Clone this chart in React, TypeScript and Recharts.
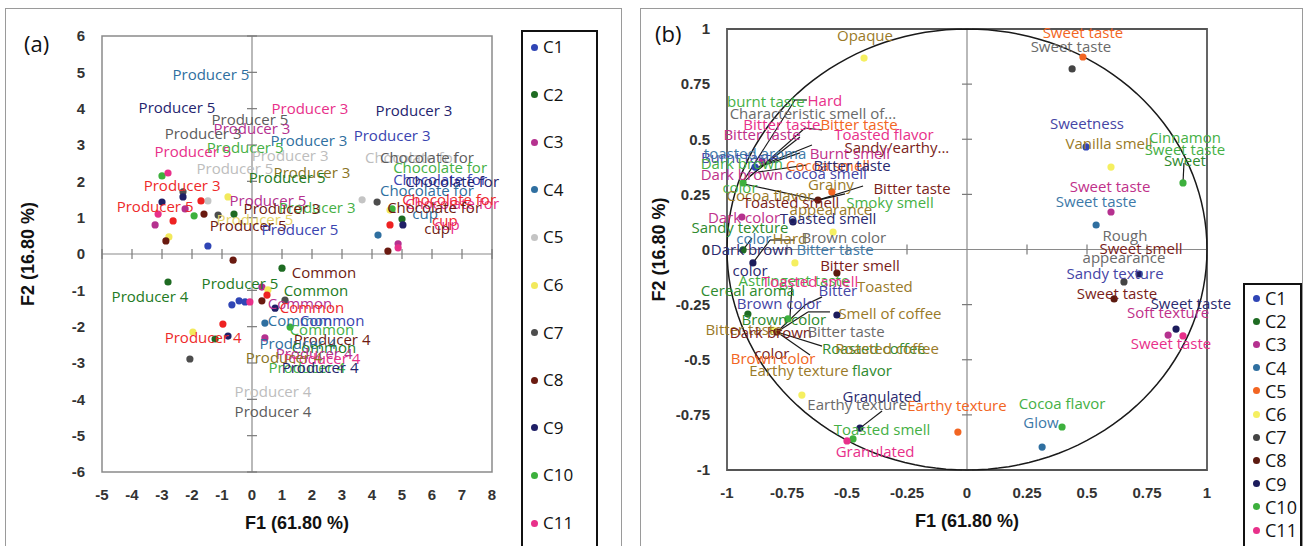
import React from 'react';
import { ScatterChart, Scatter, XAxis, YAxis, ReferenceLine, ReferenceArea } from 'recharts';

// ---------- shared ----------
const classes = ['C1', 'C2', 'C3', 'C4', 'C5', 'C6', 'C7', 'C8', 'C9', 'C10', 'C11'];
const xTitle = 'F1 (61.80 %)';
const yTitle = 'F2 (16.80 %)';

// ---------- panel (a) ----------
const xTicksA = [-5, -4, -3, -2, -1, 0, 1, 2, 3, 4, 5, 6, 7, 8];
const yTicksA = [-6, -5, -4, -3, -2, -1, 0, 1, 2, 3, 4, 5, 6];

const ptsA_C1 = [[-1.47, 0.22], [-0.67, -1.4], [-0.43, -1.29], [-0.23, -1.32]];
const ptsA_C2 = [[-0.6, 1.1], [1.0, -0.39], [-2.8, -0.77], [-1.23, -2.34], [5.0, 0.96]];
const ptsA_C3 = [[-2.23, 1.24], [-3.23, 0.8], [0.33, -0.91], [0.43, -2.31], [4.87, 0.28]];
const ptsA_C4 = [[0.43, -1.9], [4.2, 0.52]];
const ptsA_C5 = [[-1.47, 1.46], [3.67, 1.49]];
const ptsA_C6 = [[-0.8, 1.57], [-2.77, 0.47], [0.53, -0.99], [-1.97, -2.15], [4.6, 1.21]];
const ptsA_C7 = [[-2.3, 1.71], [-1.13, 1.07], [1.1, -1.27], [-2.07, -2.89], [4.17, 1.43]];
const ptsA_C8 = [[-1.6, 1.1], [-2.87, 0.36], [-0.63, -0.17], [0.33, -1.29], [4.53, 0.08]];
const ptsA_C9 = [[-3.0, 1.43], [-2.3, 1.57], [0.77, -1.49], [-0.8, -2.26], [5.03, 0.8]];
const ptsA_C10 = [[-3.0, 2.15], [-1.93, 1.05], [1.27, -2.01], [4.67, 1.24]];
const ptsA_C11 = [[-2.8, 2.23], [-3.13, 1.1], [-0.07, -1.32], [4.87, 0.17]];
const ptsA_R = [[-1.7, 1.46], [-2.63, 0.91], [0.5, -1.13], [-0.97, -1.93], [4.6, 0.8]];

// [text, colour key, x, y]
const labelsA: [string, string, number, number][] = [
  ['Producer 5', 'C4', -1.37, 4.96],
  ['Producer 5', 'C9', -2.5, 4.05],
  ['Producer 3', 'C11', 1.93, 4.02],
  ['Producer 5', 'C7', -0.07, 3.72],
  ['Producer 3', 'C3', 0.0, 3.47],
  ['Producer 3', 'C7', -1.63, 3.33],
  ['Producer 3', 'C4', 1.9, 3.14],
  ['Producer 3', 'C9', 5.4, 3.97],
  ['Producer 3', 'C1', 4.67, 3.28],
  ['Producer 5', 'C11', -1.97, 2.84],
  ['Producer 5', 'C10', -0.23, 2.95],
  ['Producer 3', 'C5', 1.27, 2.73],
  ['Producer 5', 'C5', -0.57, 2.37],
  ['Producer 3', 'O', 2.0, 2.26],
  ['Producer 5', 'C2', 1.17, 2.12],
  ['Producer 3', 'R', -2.33, 1.9],
  ['Producer 5', 'R', -3.23, 1.32],
  ['Producer 5', 'C3', 0.53, 1.49],
  ['Producer 3', 'C10', 2.17, 1.29],
  ['Producer 3', 'C8', 1.0, 1.27],
  ['Producer 5', 'C6', 0.1, 0.96],
  ['Producer 5', 'C8', -0.13, 0.8],
  ['Producer 5', 'C1', 1.6, 0.69],
  ['Chocolate for', 'C5', 5.33, 2.67],
  ['Chocolate for', 'C7', 5.83, 2.67],
  ['Chocolate for', 'C10', 6.27, 2.4],
  ['Chocolate for', 'C1', 6.27, 2.07],
  ['Chocolate for', 'C9', 6.67, 2.01],
  ['Chocolate for', 'C4', 5.83, 1.76],
  ['cup', 'C4', 5.77, 1.13],
  ['Chocolate for', 'C11', 6.67, 1.4],
  ['Chocolate for', 'R', 6.57, 1.52],
  ['cup', 'R', 6.43, 0.94],
  ['Chocolate for', 'C8', 6.07, 1.29],
  ['cup', 'C11', 6.5, 0.83],
  ['cup', 'C8', 6.17, 0.72],
  ['Common', 'C8', 2.4, -0.5],
  ['Common', 'C2', 2.13, -0.99],
  ['Producer 5', 'C2', -0.4, -0.8],
  ['Producer 4', 'C2', -3.4, -1.16],
  ['Common', 'C3', 1.6, -1.35],
  ['Common', 'R', 2.0, -1.46],
  ['Common', 'C4', 1.6, -1.82],
  ['Common', 'C1', 2.67, -1.82],
  ['Common', 'C10', 2.33, -2.07],
  ['Producer 4', 'C8', 2.67, -2.34],
  ['Producer 4', 'C4', 1.53, -2.45],
  ['Common', 'C2', 2.4, -2.56],
  ['Producer 4', 'C3', 2.07, -2.73],
  ['Producer 4', 'C11', 2.33, -2.87],
  ['Producer 4', 'O', 1.07, -2.84],
  ['Producer 4', 'C10', 1.83, -3.11],
  ['Producer 4', 'C9', 2.27, -3.11],
  ['Producer 4', 'C5', 0.7, -3.77],
  ['Producer 4', 'C7', 0.7, -4.33],
  ['Producer 4', 'R', -1.63, -2.29],
];

// ---------- panel (b) ----------
const xTicksB = [-1, -0.75, -0.5, -0.25, 0, 0.25, 0.5, 0.75, 1];
const yTicksB = [-1, -0.75, -0.5, -0.25, 0, 0.25, 0.5, 0.75, 1];

const ptsB_C1 = [[0.496, 0.465], [-0.883, 0.374]];
const ptsB_C2 = [[-0.933, -0.002], [-0.913, -0.293]];
const ptsB_C3 = [[0.6, 0.17], [0.838, -0.388], [-0.854, 0.401], [-0.938, 0.147]];
const ptsB_C4 = [[0.538, 0.111], [0.313, -0.896]];
const ptsB_C5 = [[0.483, 0.873], [-0.038, -0.828], [-0.563, 0.261]];
const ptsB_C6 = [[-0.429, 0.868], [0.6, 0.374], [-0.558, 0.079], [-0.717, -0.061], [-0.808, -0.365], [-0.688, -0.66]];
const ptsB_C7 = [[0.438, 0.819], [0.654, -0.147]];
const ptsB_C8 = [[0.613, -0.224], [-0.621, 0.224], [-0.542, -0.107], [-0.792, -0.374]];
const ptsB_C9 = [[0.717, -0.111], [0.871, -0.361], [-0.725, 0.125], [-0.892, -0.061], [-0.542, -0.297], [-0.446, -0.81]];
const ptsB_C10 = [[0.9, 0.302], [0.396, -0.805], [-0.933, 0.302], [-0.746, -0.315], [-0.475, -0.859]];
const ptsB_C11 = [[0.9, -0.392], [-0.5, -0.868]];

const labelsB: [string, string, number, number][] = [
  ['Opaque', 'C6', -0.425, 0.973],
  ['burnt taste', 'C10', -0.838, 0.673],
  ['Hard', 'C11', -0.592, 0.678],
  ['Characteristic smell of...', 'C7', -0.642, 0.619],
  ['Bitter taste', 'C11', -0.771, 0.569],
  ['Bitter taste', 'C5', -0.45, 0.569],
  ['Bitter taste', 'C3', -0.854, 0.524],
  ['Toasted flavor', 'C11', -0.346, 0.524],
  ['Sandy/earthy...', 'C8', -0.292, 0.465],
  ['Burnt taste', 'C1', -0.946, 0.42],
  ['toasted aroma', 'C4', -0.883, 0.438],
  ['Burnt smell', 'C3', -0.488, 0.438],
  ['Dark brown', 'C10', -0.938, 0.392],
  ['Cocoa smell', 'C5', -0.579, 0.383],
  ['Bitter taste', 'C9', -0.479, 0.383],
  ['Dark brown', 'C3', -0.938, 0.342],
  ['cocoa smell', 'C1', -0.588, 0.347],
  ['color', 'C10', -0.946, 0.283],
  ['Grainy', 'C6', -0.567, 0.297],
  ['Bitter taste', 'C8', -0.229, 0.279],
  ['Cocoa flavor', 'C6', -0.821, 0.247],
  ['Toasted smell', 'C8', -0.733, 0.215],
  ['Smoky smell', 'C10', -0.321, 0.215],
  ['appearance', 'C6', -0.567, 0.184],
  ['Dark color', 'C3', -0.929, 0.147],
  ['Toasted smell', 'C9', -0.579, 0.143],
  ['Sandy texture', 'C2', -0.946, 0.102],
  ['color', 'C4', -0.888, 0.052],
  ['Hard', 'C6', -0.738, 0.052],
  ['Brown color', 'C7', -0.513, 0.057],
  ['Dark brown', 'C9', -0.896, 0.002],
  ['Bitter taste', 'C4', -0.55, 0.002],
  ['color', 'C9', -0.904, -0.093],
  ['Bitter smell', 'C8', -0.446, -0.07],
  ['Astringent taste', 'C10', -0.721, -0.138],
  ['Toasted smell', 'C11', -0.654, -0.143],
  ['Cereal aroma', 'C2', -0.913, -0.184],
  ['Bitter', 'C1', -0.538, -0.184],
  ['Toasted', 'C6', -0.342, -0.166],
  ['Brown color', 'C1', -0.783, -0.243],
  ['Smell of coffee', 'C6', -0.321, -0.288],
  ['Brown color', 'C2', -0.763, -0.315],
  ['Bitter taste', 'C6', -0.929, -0.361],
  ['Dark brown', 'C8', -0.817, -0.374],
  ['Bitter taste', 'C7', -0.504, -0.37],
  ['Roasted coffee', 'C2', -0.388, -0.447],
  ['Roasted coffee', 'C6', -0.333, -0.447],
  ['color', 'C8', -0.813, -0.469],
  ['Brown color', 'C5', -0.808, -0.492],
  ['Earthy texture', 'C6', -0.7, -0.546],
  ['flavor', 'C2', -0.396, -0.546],
  ['Granulated', 'C9', -0.354, -0.664],
  ['Earthy texture', 'C7', -0.458, -0.701],
  ['Earthy texture', 'C5', -0.042, -0.705],
  ['Toasted smell', 'C10', -0.354, -0.814],
  ['Granulated', 'C11', -0.383, -0.914],
  ['Sweet taste', 'C5', 0.483, 0.986],
  ['Sweet taste', 'C7', 0.433, 0.923],
  ['Sweetness', 'C1', 0.5, 0.574],
  ['Vanilla smell', 'C6', 0.592, 0.483],
  ['Cinnamon', 'C10', 0.908, 0.51],
  ['Sweet taste', 'C10', 0.908, 0.456],
  ['Sweet', 'C2', 0.908, 0.406],
  ['Sweet taste', 'C3', 0.596, 0.288],
  ['Sweet taste', 'C4', 0.538, 0.22],
  ['Rough', 'C7', 0.658, 0.066],
  ['Sweet smell', 'C8', 0.725, 0.007],
  ['appearance', 'C7', 0.654, -0.034],
  ['Sandy texture', 'C1', 0.617, -0.107],
  ['Sweet taste', 'C8', 0.625, -0.197],
  ['Sweet taste', 'C9', 0.933, -0.243],
  ['Soft texture', 'C3', 0.838, -0.283],
  ['Sweet taste', 'C11', 0.85, -0.424],
  ['Cocoa flavor', 'C10', 0.396, -0.696],
  ['Glow', 'C4', 0.308, -0.782],
];

// leader lines [x1, y1, x2, y2] in data units
const leadersB: [number, number, number, number][] = [
  [0.9, 0.302, 0.904, 0.392],
  [-0.942, 0.293, -0.717, 0.678],
  [-0.717, 0.678, -0.667, 0.678],
  [-0.925, 0.311, -0.675, 0.551],
  [-0.675, 0.551, -0.604, 0.542],
  [-0.904, 0.333, -0.696, 0.51],
  [-0.863, 0.379, -0.646, 0.474],
  [-0.879, 0.37, -0.696, 0.438],
  [-0.871, 0.351, -0.671, 0.383],
  [-0.929, 0.297, -0.621, 0.224],
  [-0.621, 0.224, -0.433, 0.288],
  [-0.621, 0.224, -0.508, 0.252],
  [-0.892, -0.061, -0.821, 0.043],
  [-0.821, 0.043, -0.717, 0.043],
  [-0.792, -0.374, -0.604, -0.438],
  [-0.792, -0.374, -0.675, -0.252],
  [-0.675, -0.252, -0.604, -0.215],
  [-0.792, -0.374, -0.663, -0.283],
  [-0.663, -0.283, -0.571, -0.283],
  [-0.792, -0.374, -0.654, -0.478],
  [-0.729, -0.161, -0.738, -0.311],
  [-0.446, -0.81, -0.354, -0.732],
  [-0.933, -0.002, -0.896, 0.052],
];

// correlation circle (unit circle, radius 1)
const circleDegrees = Array.from({ length: 145 }, (_, i) => i * 2.5);
const unitCircle = circleDegrees.map((d) => ({ x: Math.cos((d * Math.PI) / 180), y: Math.sin((d * Math.PI) / 180) }));

// ---------- colours ----------
const dotColA: Record<string, string> = {
  C1: '#2f45b5', C2: '#1e6b22', C3: '#b5318f', C4: '#2f6fa0', C5: '#c4c4c4', C6: '#f2e95c',
  C7: '#4d4d4d', C8: '#6a1a10', C9: '#1f1f66', C10: '#3db03d', C11: '#e8308a', R: '#ee2222',
};
const textColA: Record<string, string> = {
  C1: '#3a44b0', C2: '#237a23', C3: '#b5318f', C4: '#2f6fa0', C5: '#bdbdbd', C6: '#e6d468',
  C7: '#5c5c5c', C8: '#6e1b12', C9: '#24246e', C10: '#45b045', C11: '#e8308a', R: '#ee2a2a', O: '#8a7424',
};
const dotColB: Record<string, string> = {
  C1: '#2f45b5', C2: '#1e6b22', C3: '#b5318f', C4: '#2f6fa0', C5: '#f26522', C6: '#f5ef60',
  C7: '#444444', C8: '#5c1a10', C9: '#1c1c5c', C10: '#3db03d', C11: '#e8308a',
};
const textColB: Record<string, string> = {
  C1: '#4545a5', C2: '#2e8a2e', C3: '#c0308a', C4: '#3d79a8', C5: '#f26522', C6: '#9a7a28',
  C7: '#6a6a6a', C8: '#7a1e1a', C9: '#2a2a70', C10: '#45b045', C11: '#e8308a',
};

const LABEL_FONT = "'Open Sans', 'Noto Sans', sans-serif";
const AXIS_FONT = "'Liberation Sans', Arial, sans-serif";

const toXY = (arr: number[][]) => arr.map(([x, y]) => ({ x, y }));

const dotShape = (color: string) => (p: any) => <circle cx={p.cx} cy={p.cy} r={3.6} fill={color} />;
const labelShape = (colors: Record<string, string>, size: number) => (p: any) => (
  <text
    x={p.cx}
    y={p.cy}
    textAnchor="middle"
    dominantBaseline="central"
    fill={colors[p.payload.c]}
    fontSize={size}
    fontFamily={LABEL_FONT}
  >
    {p.payload.t}
  </text>
);
const vTick = (p: any) => <line x1={p.cx} x2={p.cx} y1={p.cy - 5} y2={p.cy + 5} stroke="#7a7a7a" strokeWidth={1.2} />;
const hTick = (p: any) => <line x1={p.cx - 5} x2={p.cx + 5} y1={p.cy} y2={p.cy} stroke="#7a7a7a" strokeWidth={1.2} />;
const noShape = () => <g />;

const tickStyle = { fill: '#333', fontSize: 15, fontWeight: 700, fontFamily: AXIS_FONT };
const titleStyle = { fill: '#111', fontSize: 18, fontWeight: 700, fontFamily: AXIS_FONT };

const seriesA: [string, number[][]][] = [
  ['C1', ptsA_C1], ['C2', ptsA_C2], ['C3', ptsA_C3], ['C4', ptsA_C4], ['C5', ptsA_C5], ['C6', ptsA_C6],
  ['C7', ptsA_C7], ['C8', ptsA_C8], ['C9', ptsA_C9], ['C10', ptsA_C10], ['C11', ptsA_C11], ['R', ptsA_R],
];
const seriesB: [string, number[][]][] = [
  ['C1', ptsB_C1], ['C2', ptsB_C2], ['C3', ptsB_C3], ['C4', ptsB_C4], ['C5', ptsB_C5], ['C6', ptsB_C6],
  ['C7', ptsB_C7], ['C8', ptsB_C8], ['C9', ptsB_C9], ['C10', ptsB_C10], ['C11', ptsB_C11],
];

function LegendBox({ left, top, width, height, step, first, fontSize, colors }: any) {
  return (
    <div
      style={{
        position: 'absolute', left, top, width, height, border: '2px solid #111', boxSizing: 'border-box',
        background: '#fff',
      }}
    >
      {classes.map((c, i) => (
        <div
          key={c}
          style={{
            position: 'absolute', left: 8, top: first + i * step - 10, height: 20, lineHeight: '20px', display: 'flex',
            alignItems: 'center', fontFamily: "'Open Sans', sans-serif", fontSize, color: '#111', whiteSpace: 'nowrap',
          }}
        >
          <span style={{ width: 7, height: 7, borderRadius: '50%', background: colors[c], display: 'inline-block', marginRight: 5 }} />
          {c}
        </div>
      ))}
    </div>
  );
}

export default function App() {
  const labelDataA = labelsA.map(([t, c, x, y]) => ({ x, y, t, c }));
  const labelDataB = labelsB.map(([t, c, x, y]) => ({ x, y, t, c }));
  return (
    <div style={{ position: 'absolute', left: 0, top: 0, width: 1307, height: 546, background: '#fff', overflow: 'hidden' }}>
      {/* panel frames */}
      <div style={{ position: 'absolute', left: 5, top: 8, width: 617, height: 560, border: '1px solid #9a9a9a', boxSizing: 'border-box' }} />
      <div style={{ position: 'absolute', left: 640, top: 8, width: 663, height: 560, border: '1px solid #9a9a9a', boxSizing: 'border-box' }} />

      {/* panel (a) */}
      <div style={{ position: 'absolute', left: 0, top: 0 }}>
        <ScatterChart width={640} height={546} margin={{ top: 36, right: 148, bottom: 34, left: 42 }}>
          <XAxis
            type="number" dataKey="x" domain={[-5, 8]} ticks={xTicksA}
            axisLine={false} tickLine={false} tickSize={0} tickMargin={17} height={40} tick={tickStyle}
            label={{ value: xTitle, position: 'insideBottom', offset: -17, style: titleStyle }}
          />
          <YAxis
            type="number" dataKey="y" domain={[-6, 6]} ticks={yTicksA}
            axisLine={false} tickLine={false} tickSize={0} tickMargin={17} width={60} tick={tickStyle}
            label={{ value: yTitle, angle: -90, position: 'insideLeft', offset: -14, style: { ...titleStyle, textAnchor: 'middle' } }}
          />
          <ReferenceArea x1={-5} x2={8} y1={-6} y2={6} fill="none" stroke="#8a8a8a" strokeWidth={1.5} />
          <ReferenceLine x={0} stroke="#8a8a8a" strokeWidth={1.2} />
          <ReferenceLine y={0} stroke="#8a8a8a" strokeWidth={1.2} />
          <Scatter data={xTicksA.filter((v) => v !== 0).map((v) => ({ x: v, y: 0 }))} shape={vTick} isAnimationActive={false} />
          <Scatter data={yTicksA.filter((v) => v !== 0).map((v) => ({ x: 0, y: v }))} shape={hTick} isAnimationActive={false} />
          {seriesA.map(([c, pts]) => (
            <Scatter key={c} name={c} data={toXY(pts)} shape={dotShape(dotColA[c])} isAnimationActive={false} />
          ))}
          <Scatter data={labelDataA} shape={labelShape(textColA, 15)} isAnimationActive={false} />
        </ScatterChart>
      </div>
      <div style={{ position: 'absolute', left: 24, top: 28, fontFamily: "'Open Sans', sans-serif", fontSize: 22, color: '#111' }}>(a)</div>
      <LegendBox left={521} top={30} width={77} height={540} step={47.6} first={15} fontSize={17} colors={dotColA} />

      {/* panel (b) */}
      <div style={{ position: 'absolute', left: 640, top: 0 }}>
        <ScatterChart width={667} height={546} margin={{ top: 29, right: 100, bottom: 36, left: 27 }}>
          <XAxis
            type="number" dataKey="x" domain={[-1, 1]} ticks={xTicksB}
            axisLine={false} tickLine={false} tickSize={0} tickMargin={17} height={40} tick={tickStyle}
            label={{ value: xTitle, position: 'insideBottom', offset: -17, style: titleStyle }}
          />
          <YAxis
            type="number" dataKey="y" domain={[-1, 1]} ticks={yTicksB}
            axisLine={false} tickLine={false} tickSize={0} tickMargin={17} width={60} tick={tickStyle}
            label={{ value: yTitle, angle: -90, position: 'insideLeft', offset: -8, style: { ...titleStyle, textAnchor: 'middle' } }}
          />
          <ReferenceArea x1={-1} x2={1} y1={-1} y2={1} fill="none" stroke="#555" strokeWidth={1.8} />
          <ReferenceLine x={0} stroke="#8a8a8a" strokeWidth={1.2} />
          <ReferenceLine y={0} stroke="#8a8a8a" strokeWidth={1.2} />
          <Scatter data={xTicksB.filter((v) => v !== 0).map((v) => ({ x: v, y: 0 }))} shape={vTick} isAnimationActive={false} />
          <Scatter data={yTicksB.filter((v) => v !== 0).map((v) => ({ x: 0, y: v }))} shape={hTick} isAnimationActive={false} />
          <Scatter data={unitCircle} shape={noShape} line={{ stroke: '#1a1a1a', strokeWidth: 1.5 }} isAnimationActive={false} />
          {leadersB.map(([x1, y1, x2, y2], i) => (
            <ReferenceLine key={i} segment={[{ x: x1, y: y1 }, { x: x2, y: y2 }]} stroke="#1a1a1a" strokeWidth={1.2} />
          ))}
          {seriesB.map(([c, pts]) => (
            <Scatter key={c} name={c} data={toXY(pts)} shape={dotShape(dotColB[c])} isAnimationActive={false} />
          ))}
          <Scatter data={labelDataB} shape={labelShape(textColB, 15)} isAnimationActive={false} />
        </ScatterChart>
      </div>
      <div style={{ position: 'absolute', left: 655, top: 18, fontFamily: "'Open Sans', sans-serif", fontSize: 22, color: '#111' }}>(b)</div>
      <LegendBox left={1243} top={283} width={59} height={280} step={23.2} first={13} fontSize={18} colors={dotColB} />
    </div>
  );
}
